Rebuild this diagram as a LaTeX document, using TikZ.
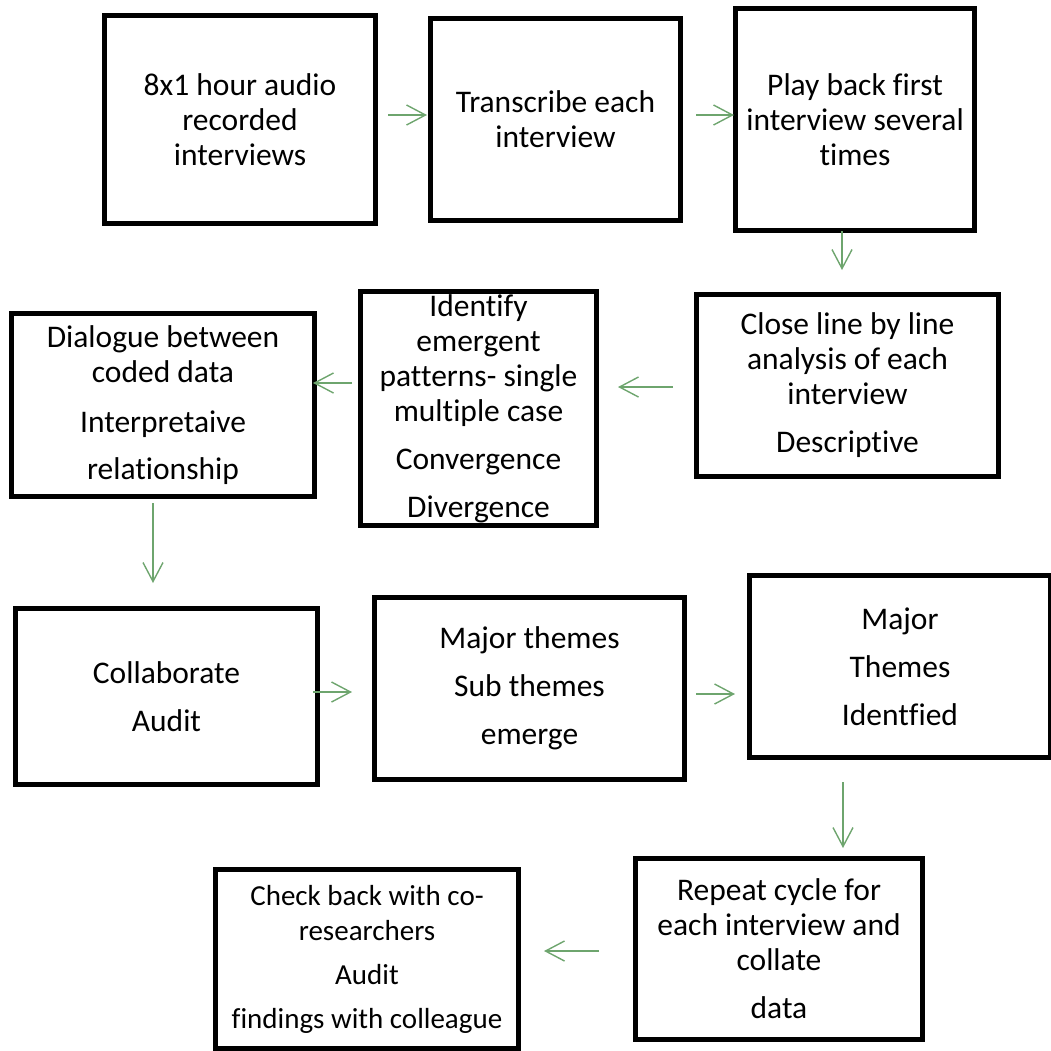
\documentclass[tikz,border=0pt]{standalone}
\usepackage{fontspec}
\setmainfont{Carlito}[Ligatures=NoCommon]
\usetikzlibrary{arrows.meta}
\definecolor{flowgreen}{RGB}{110,165,110}
\begin{document}
\begin{tikzpicture}[x=1pt,y=-1pt,
  stepbox/.style={draw=black, line width=5pt, inner sep=0pt, align=center,
    font=\fontsize{31.5}{35}\selectfont},
  flow/.style={draw=flowgreen, line width=1.4pt,
    -{Straight Barb[length=19pt,width=20pt,line width=1.4pt]}}]
\useasboundingbox (0,0) rectangle (1051,1050);
\clip (0,0) rectangle (1051,1050);

% top row
\node[stepbox, minimum width=271pt, minimum height=208pt] (b1) at (240,119.5)
  {8x1 hour audio\\recorded\\interviews};
\node[stepbox, minimum width=250pt, minimum height=202pt] (b2) at (555.5,119.5)
  {Transcribe each\\interview};
\node[stepbox, minimum width=239pt, minimum height=222pt] (b3) at (855,119.5)
  {Play back first\\interview several\\times};

% second row
\node[stepbox, minimum width=302pt, minimum height=182pt] (b4) at (847.5,385.5)
  {Close line by line\\analysis of each\\interview\\[13pt]Descriptive};
\node[stepbox, minimum width=236pt, minimum height=234pt] (b5) at (478.5,408.5)
  {Identify\\emergent\\patterns- single\\multiple case\\[13pt]Convergence\\[13pt]Divergence};
\node[stepbox, minimum width=303pt, minimum height=183pt] (b6) at (163,405)
  {Dialogue between\\coded data\\[15pt]Interpretaive\\[12pt]relationship};

% third row
\node[stepbox, minimum width=302pt, minimum height=176pt] (b7) at (166.5,696.5)
  {Collaborate\\[13pt]Audit};
\node[stepbox, minimum width=310pt, minimum height=182pt] (b8) at (529.5,688.5)
  {Major themes\\[13pt]Sub themes\\[13pt]emerge};
\node[stepbox, minimum width=301pt, minimum height=182pt] (b9) at (900,666.5)
  {Major\\[13pt]Themes\\[13pt]Identfied};

% bottom row
\node[stepbox, minimum width=287pt, minimum height=181pt] (b10) at (779,949)
  {Repeat cycle for\\each interview and\\collate\\[13pt]data};
\node[stepbox, minimum width=303pt, minimum height=179pt,
  font=\fontsize{29}{35}\selectfont] (b11) at (367,959)
  {Check back with co-\\researchers\\[9pt]Audit\\[9pt]findings with colleague};

% connectors
\draw[flow] ([shift={(10,-4.5)}]b1.east) -- ([shift={(-1,-4.5)}]b2.west);
\draw[flow] ([shift={(13,-4.5)}]b2.east) -- ([shift={(1,-4.5)}]b3.west);
\draw[flow] ([shift={(-13,-2)}]b3.south) -- ([shift={(-13,37)}]b3.south);
\draw[flow] ([shift={(-21,1.5)}]b4.west) -- ([shift={(19,-21.5)}]b5.east);
\draw[flow] ([shift={(-6,-25.5)}]b5.west) -- ([shift={(-4,-22)}]b6.east);
\draw[flow] ([shift={(-10,4)}]b6.south) -- ([shift={(-13.5,-23)}]b7.north);
\draw[flow] ([shift={(-7,-4.5)}]b7.east) -- ([shift={(-20,3.5)}]b8.west);
\draw[flow] ([shift={(9,5.5)}]b8.east) -- ([shift={(-12,27.5)}]b9.west);
\draw[flow] ([shift={(-57,22)}]b9.south) -- ([shift={(64,-8)}]b10.north);
\draw[flow] ([shift={(-34,2)}]b10.west) -- ([shift={(23,-8)}]b11.east);
\end{tikzpicture}
\end{document}
